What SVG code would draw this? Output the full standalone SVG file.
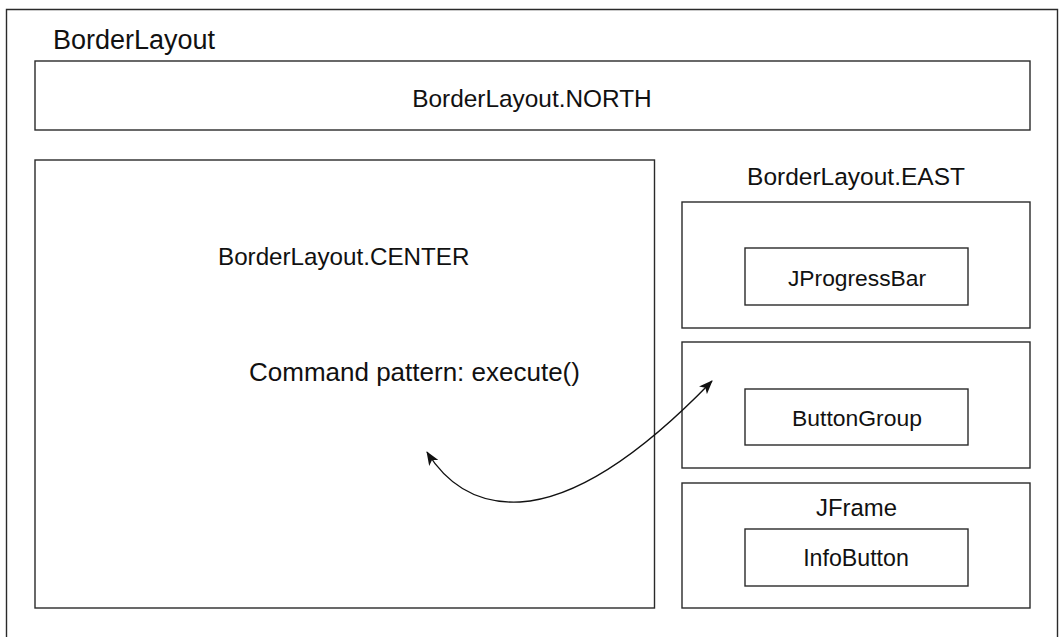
<svg xmlns="http://www.w3.org/2000/svg" width="1060" height="637" viewBox="0 0 1060 637">
<style>
.box{fill:none;stroke:#2a2a2a;stroke-width:1.4}
.t{font-family:"Liberation Sans",Arial,sans-serif;fill:#111}
.m{text-anchor:middle}
.conn{fill:none;stroke:#111;stroke-width:1.4}
</style>
<defs>
<marker id="ah" viewBox="0 0 14 11" refX="13" refY="5.5" markerWidth="14" markerHeight="11" markerUnits="userSpaceOnUse" orient="auto-start-reverse">
<path d="M0,0 L14,5.5 L0,11 L3.5,5.5 Z" fill="#111"/>
</marker>
</defs>
<rect width="1060" height="637" fill="#fff"/>
<g id="borderlayout">
<path class="box" d="M6.5,640 L6.5,9.5 L1057.5,9.5 L1057.5,640"/>
<text class="t" x="53" y="49" font-size="27">BorderLayout</text>
</g>
<g id="north">
<rect class="box" x="35" y="61" width="995" height="69"/>
<text class="t m" x="532" y="107" font-size="24.4">BorderLayout.NORTH</text>
</g>
<g id="center">
<rect class="box" x="35" y="160" width="619.5" height="448"/>
<text class="t" x="218" y="265" font-size="24.2">BorderLayout.CENTER</text>
<text class="t" x="249" y="381" font-size="26">Command pattern: execute()</text>
</g>
<g id="east">
<text class="t m" x="856" y="185" font-size="24.5">BorderLayout.EAST</text>
</g>
<g id="east-top">
<rect class="box" x="682" y="202" width="348" height="126"/>
</g>
<g id="jprogressbar">
<rect class="box" x="745" y="248" width="223" height="57"/>
<text class="t m" x="857" y="286" font-size="22.8">JProgressBar</text>
</g>
<g id="east-middle">
<rect class="box" x="682" y="342" width="348" height="126"/>
</g>
<g id="buttongroup">
<rect class="box" x="745" y="389" width="223" height="56"/>
<text class="t m" x="857" y="426" font-size="22.9">ButtonGroup</text>
</g>
<g id="jframe">
<rect class="box" x="682" y="483" width="348" height="125"/>
<text class="t m" x="856.5" y="516" font-size="23.9">JFrame</text>
</g>
<g id="infobutton">
<rect class="box" x="745" y="529" width="223" height="57"/>
<text class="t m" x="856" y="566" font-size="23.2">InfoButton</text>
</g>
<g id="connectors">
<path class="conn" d="M427,452 Q460,505 520,502 Q600,497 712,381" marker-start="url(#ah)" marker-end="url(#ah)"/>
</g>
</svg>
